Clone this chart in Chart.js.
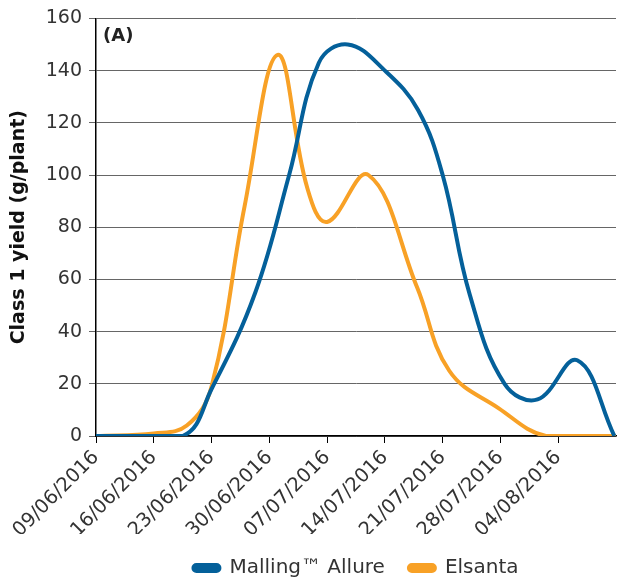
<!DOCTYPE html>
<html>
<head>
<meta charset="utf-8">
<script src="https://cdn.jsdelivr.net/npm/chart.js@4.4.0/dist/chart.umd.min.js"></script>
<style>
  html, body { margin: 0; padding: 0; background: #fff; }
  #wrap { width: 617px; height: 584px; }
</style>
</head>
<body>
<div id="wrap"><canvas id="chart" width="617" height="584"></canvas></div>
<script>
// days counted from 09/06/2016
const tickLabels = ["09/06/2016", "16/06/2016", "23/06/2016", "30/06/2016", "07/07/2016",
  "14/07/2016", "21/07/2016", "28/07/2016", "04/08/2016"];

const allureDays = [0, 10.5, 14, 19.3, 23.4, 27, 30.5, 35, 39, 42, 45.3, 49.5, 53.5, 58.3, 62.8];
const allureYield = [0, 0, 18, 55, 100, 143, 150, 140, 125, 100, 54, 20, 14, 29, 0];

const elsantaDays = [0, 7, 11, 14, 18, 22, 25.6, 28, 33, 38.9, 42.8, 48.8, 54.5, 63];
const elsantaYield = [0, 1, 4, 19, 88, 146, 95, 82, 100, 57, 25, 10.6, 0, 0];

const font = "'DejaVu Sans', sans-serif";

const toPoints = (xs, ys) => xs.map((x, i) => ({ x: x, y: ys[i] }));

const panelLabel = {
  id: "panelLabel",
  afterLayout(chart) {
    // centre the legend under the plot area, not the whole canvas
    const lg = chart.legend;
    if (lg) {
      lg.left = chart.chartArea.left;
      lg.right = chart.chartArea.right;
    }
  },
  afterDraw(chart) {
    const ctx = chart.ctx;
    const area = chart.chartArea;
    ctx.save();
    ctx.font = "bold 18px " + font;
    ctx.fillStyle = "#222";
    ctx.textBaseline = "middle";
    ctx.fillText("(A)", area.left + 7, area.top + 18);
    ctx.restore();
  },
};

new Chart(document.getElementById("chart"), {
  type: "line",
  data: {
    datasets: [
      {
        label: "Malling\u2122 Allure",
        data: toPoints(allureDays, allureYield),
        borderColor: "#04609a",
        backgroundColor: "#04609a",
        borderWidth: 4,
        pointRadius: 0,
        tension: 0.4,
      },
      {
        label: "Elsanta",
        data: toPoints(elsantaDays, elsantaYield),
        borderColor: "#f8a126",
        backgroundColor: "#f8a126",
        borderWidth: 4,
        pointRadius: 0,
        tension: 0.4,
      },
    ],
  },
  options: {
    responsive: false,
    animation: false,
    layout: { padding: { top: 15, right: 1, left: 8, bottom: -4 } },
    plugins: {
      tooltip: { enabled: false },
      legend: {
        position: "bottom",
        labels: {
          font: { family: font, size: 20 },
          color: "#333",
          boxWidth: 26,
          boxHeight: 6,
          useBorderRadius: true,
          borderRadius: 3,
          padding: 24,
        },
      },
    },
    scales: {
      x: {
        type: "linear",
        min: 0,
        max: 63,
        afterBuildTicks: (scale) => {
          scale.ticks = tickLabels.map((t, i) => ({ value: i * 7 }));
        },
        afterFit: (scale) => { scale.height = 98; },
        ticks: {
          minRotation: 45,
          maxRotation: 45,
          color: "#333",
          font: { family: font, size: 19.5 },
          callback: (v) => tickLabels[Math.round(v / 7)],
        },
        grid: { drawOnChartArea: false, drawTicks: true, tickLength: 7, color: "#000" },
        border: { display: true, color: "#000", width: 1.5 },
      },
      y: {
        min: 0,
        max: 160,
        afterFit: (scale) => { scale.width = 88; },
        ticks: {
          stepSize: 20,
          color: "#333",
          padding: 7,
          font: { family: font, size: 19 },
        },
        title: {
          display: true,
          text: "Class 1 yield (g/plant)",
          color: "#111",
          font: { family: font, size: 19, weight: "bold" },
          padding: { top: 0, bottom: 4 },
        },
        grid: { color: "#666", lineWidth: 1, tickLength: 7 },
        border: { display: true, color: "#000", width: 1.5 },
      },
    },
  },
  plugins: [panelLabel],
});
</script>
</body>
</html>
